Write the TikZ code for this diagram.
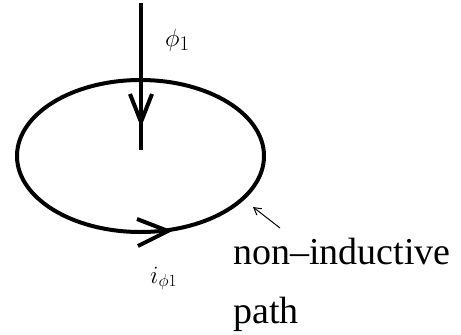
\documentclass[tikz,border=0pt]{standalone}
\usepackage{fontspec}
\setmainfont{Liberation Serif}
\usetikzlibrary{arrows.meta}
\begin{document}
\begin{tikzpicture}[x=1pt,y=-1pt,
  thickline/.style={line width=4pt},
  thinline/.style={line width=1pt},
  lbl/.style={inner sep=0pt,anchor=base west,font=\fontsize{38}{38}\selectfont}]
\useasboundingbox (0,0) rectangle (461,335);
% loop
\draw[thickline] (140.5,156) ellipse [x radius=123.5, y radius=76];
% flux arrow
\coordinate (ftop) at (141,3);
\coordinate (fbot) at (141,150);
\coordinate (ftip) at (141,122);
\draw[thickline] (ftop) -- (fbot);
\draw[thickline,line join=miter] (130,94) -- (ftip) -- (152,94);
% current arrow at bottom of loop
\coordinate (ctip) at (168,231);
\draw[thickline,line join=miter] (137,219) -- (ctip) -- (138,246);
% labels
\node[inner sep=0pt,anchor=base west,font=\fontsize{30}{30}\selectfont] (phi) at (165,46) {$\phi_1$};
\node[inner sep=0pt,anchor=base west,font=\fontsize{27}{27}\selectfont] (cur) at (150,283) {$i_{\phi1}$};
\node[lbl] (txt1) at (233,264) {non–inductive};
\node[lbl] (txt2) at (233,323) {path};
% pointer arrow
\coordinate (ptail) at (280,228);
\coordinate (phead) at (253,207);
\draw[thinline,-{Straight Barb[length=7pt,width=8pt]}] (ptail) -- (phead);
\end{tikzpicture}
\end{document}
